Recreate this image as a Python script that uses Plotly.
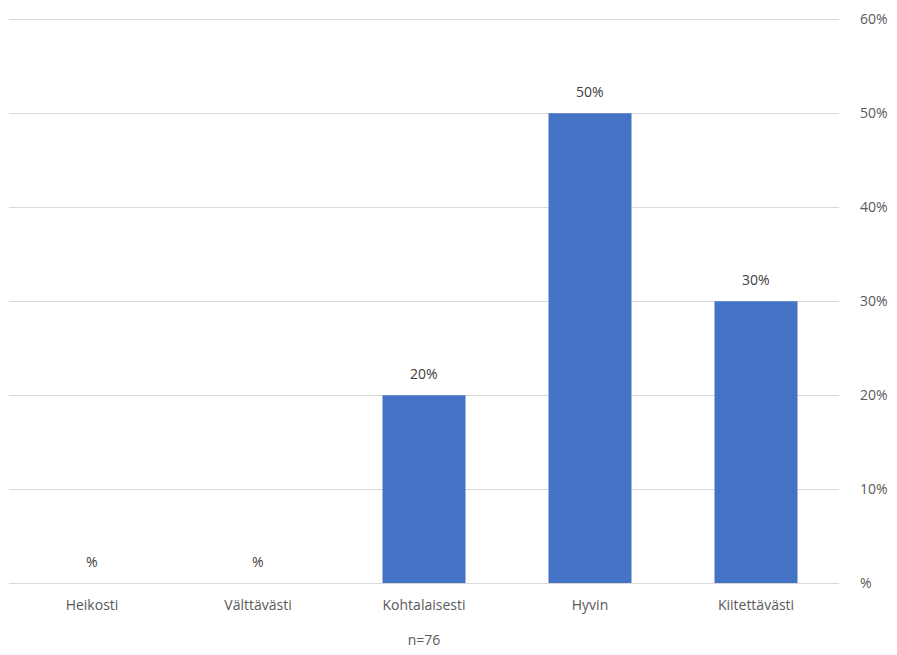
import plotly.graph_objects as go

categories = ["Heikosti", "Välttävästi", "Kohtalaisesti", "Hyvin", "Kiitettävästi"]
values = [0, 0, 20, 50, 30]
tick_vals = [0, 10, 20, 30, 40, 50, 60]
tick_text = ["%", "10%", "20%", "30%", "40%", "50%", "60%"]
x_title = "n=76"

labels = [f"{v}%" if v else "%" for v in values]

font_family = "Open Sans, Liberation Sans, sans-serif"
gray = "#595959"

fig = go.Figure(go.Bar(
    x=categories, y=values,
    marker=dict(color="#4472c4", line=dict(width=0)),
    width=0.5,
))

for c, v, t in zip(categories, values, labels):
    fig.add_annotation(
        x=c, y=v, text=t, showarrow=False, yanchor="bottom", yshift=10,
        font=dict(family=font_family, size=14, color="#404040"),
    )

fig.update_layout(
    width=897, height=655,
    margin=dict(l=9, r=57, t=15, b=71),
    paper_bgcolor="white", plot_bgcolor="white",
    showlegend=False,
    font=dict(family=font_family, size=14, color=gray),
    xaxis=dict(
        showgrid=False, showline=False, ticks="",
        tickfont=dict(size=14, color=gray), ticklabelstandoff=12,
        title=dict(text=x_title, font=dict(size=14, color=gray), standoff=22),
    ),
    yaxis=dict(
        side="right", range=[0, 60.15],
        tickvals=tick_vals, ticktext=tick_text,
        showgrid=True, gridcolor="#d9d9d9", gridwidth=1,
        zeroline=True, zerolinecolor="#d9d9d9", zerolinewidth=1,
        showline=False, ticks="", ticklabelstandoff=20,
        tickfont=dict(size=14, color=gray),
    ),
)

fig.write_html("out.html")
